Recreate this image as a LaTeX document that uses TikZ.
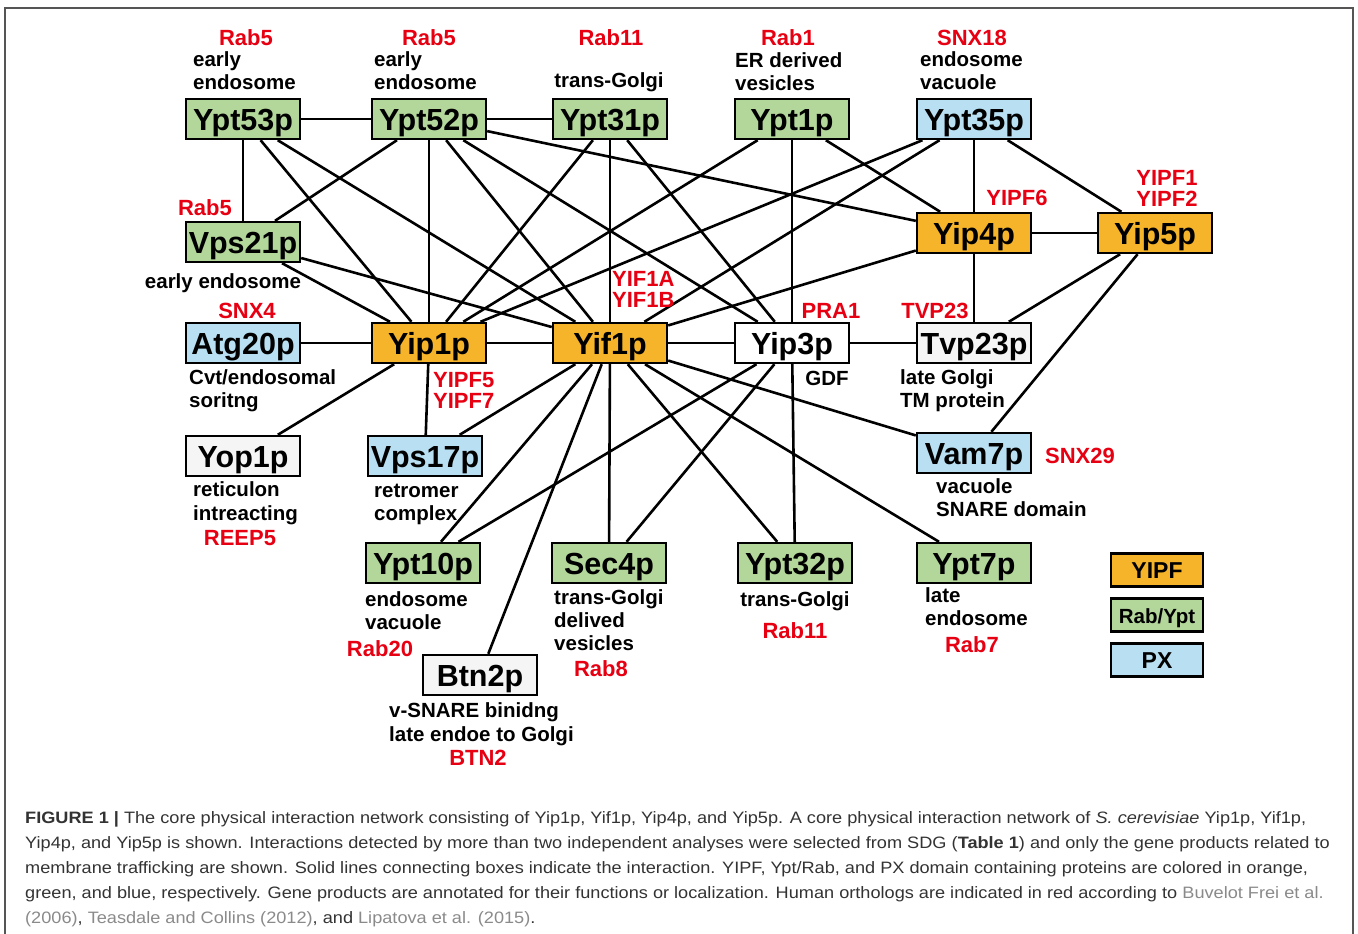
\documentclass[tikz,border=0pt]{standalone}
\usepackage{fontspec}
\setmainfont{Liberation Sans}
\newfontfamily\capfont[FakeStretch=1.1]{Liberation Sans}
\definecolor{yipf}{HTML}{F6B42B}
\definecolor{rabypt}{HTML}{B3D69A}
\definecolor{pxdom}{HTML}{B8E0F2}
\definecolor{plain}{HTML}{F5F5F5}
\definecolor{ortho}{HTML}{E60012}
\definecolor{captxt}{HTML}{333333}
\definecolor{capref}{HTML}{8A8A8A}
\definecolor{framegray}{HTML}{555555}

\begin{document}
\begin{tikzpicture}[x=1pt,y=-1pt,
  prot/.style={draw, line width=2.4pt, minimum width=114pt, minimum height=40pt, inner sep=0pt,
    text height=22pt, text depth=0pt, font=\bfseries\fontsize{30.5}{30.5}\selectfont},
  key/.style={draw, line width=2.4pt, minimum width=92pt, minimum height=33pt, inner sep=0pt,
    text height=16pt, text depth=0pt, font=\bfseries\fontsize{23}{23}\selectfont},
  note/.style={inner sep=0pt, align=left, anchor=base west, font=\bfseries\fontsize{20.5}{23}\selectfont},
  human/.style={inner sep=0pt, align=left, anchor=base west, text=ortho, font=\bfseries\fontsize{22}{21}\selectfont},
  capline/.style={inner sep=0pt, anchor=base west, text=captxt, font=\capfont\fontsize{16.5}{16.5}\selectfont},
  link/.style={line width=2.6pt}]
\useasboundingbox (0,0) rectangle (1358,934);
\draw[framegray, line width=1.5pt] (5,934) -- (5,8) -- (1353,8) -- (1353,934);

\node[prot, fill=rabypt] (Ypt53p) at (243,119) {Ypt53p};
\node[prot, fill=rabypt] (Ypt52p) at (429,119) {Ypt52p};
\node[prot, fill=rabypt] (Ypt31p) at (610,119) {Ypt31p};
\node[prot, fill=rabypt] (Ypt1p) at (792,119) {Ypt1p};
\node[prot, fill=pxdom] (Ypt35p) at (974,119) {Ypt35p};
\node[prot, fill=rabypt] (Vps21p) at (243,242) {Vps21p};
\node[prot, fill=yipf] (Yip4p) at (974,233) {Yip4p};
\node[prot, fill=yipf] (Yip5p) at (1155,233) {Yip5p};
\node[prot, fill=pxdom] (Atg20p) at (243,343) {Atg20p};
\node[prot, fill=yipf] (Yip1p) at (429,343) {Yip1p};
\node[prot, fill=yipf] (Yif1p) at (610,343) {Yif1p};
\node[prot, fill=white] (Yip3p) at (792,343) {Yip3p};
\node[prot, fill=plain] (Tvp23p) at (974,343) {Tvp23p};
\node[prot, fill=plain] (Yop1p) at (243,456) {Yop1p};
\node[prot, fill=pxdom] (Vps17p) at (425,456) {Vps17p};
\node[prot, fill=pxdom] (Vam7p) at (974,453) {Vam7p};
\node[prot, fill=rabypt] (Ypt10p) at (423,563) {Ypt10p};
\node[prot, fill=rabypt] (Sec4p) at (609,563) {Sec4p};
\node[prot, fill=rabypt] (Ypt32p) at (795,563) {Ypt32p};
\node[prot, fill=rabypt] (Ypt7p) at (974,563) {Ypt7p};
\node[prot, fill=plain] (Btn2p) at (480,675) {Btn2p};

\node[key, fill=yipf] (keyYIPF) at (1157,570) {YIPF};
\node[key, fill=rabypt, font=\bfseries\fontsize{20.5}{20.5}\selectfont] (keyRab) at (1157,615) {Rab/Ypt};
\node[key, fill=pxdom] (keyPX) at (1157,660) {PX};

\path[draw,link] (Ypt53p) -- (Ypt52p);
\path[draw,link] (Ypt52p) -- (Ypt31p);
\path[draw,link] (Ypt53p) -- (Vps21p);
\path[draw,link] (Ypt53p) -- (Yip1p);
\path[draw,link] (Ypt53p) -- (Yif1p);
\path[draw,link] (Ypt52p) -- (Vps21p);
\path[draw,link] (Ypt52p) -- (Yip1p);
\path[draw,link] (Ypt52p) -- (Yif1p);
\path[draw,link] (Ypt52p) -- (Yip3p);
\path[draw,link] (Ypt52p) -- (Yip4p);
\path[draw,link] (Ypt31p) -- (Yip1p);
\path[draw,link] (Ypt31p) -- (Yif1p);
\path[draw,link] (Ypt31p) -- (Yip3p);
\path[draw,link] (Ypt1p) -- (Yip1p);
\path[draw,link] (Ypt1p) -- (Yip3p);
\path[draw,link] (Ypt1p) -- (Yip4p);
\path[draw,link] (Ypt35p) -- (Yip1p);
\path[draw,link] (Ypt35p) -- (Yif1p);
\path[draw,link] (Ypt35p) -- (Yip4p);
\path[draw,link] (Ypt35p) -- (Yip5p);
\path[draw,link] (Vps21p) -- (Yip1p);
\path[draw,link] (Vps21p) -- (Yif1p);
\path[draw,link] (Yip4p) -- (Yip5p);
\path[draw,link] (Yip4p) -- (Yif1p);
\path[draw,link] (Yip4p) -- (Tvp23p);
\path[draw,link] (Yip5p) -- (Tvp23p);
\path[draw,link] (Yip5p) -- (Vam7p);
\path[draw,link] (Atg20p) -- (Yip1p);
\path[draw,link] (Yip1p) -- (Yif1p);
\path[draw,link] (Yif1p) -- (Yip3p);
\path[draw,link] (Yip3p) -- (Tvp23p);
\path[draw,link] (Yip1p) -- (Yop1p);
\path[draw,link] (Yip1p) -- (Vps17p);
\path[draw,link] (Yif1p) -- (Vps17p);
\path[draw,link] (Yif1p) -- (Ypt10p);
\path[draw,link] (Yif1p) -- (Btn2p);
\path[draw,link] (Yif1p) -- (Sec4p);
\path[draw,link] (Yif1p) -- (Ypt32p);
\path[draw,link] (Yif1p) -- (Ypt7p);
\path[draw,link] (Yif1p) -- (Vam7p);
\path[draw,link] (Yip3p) -- (Ypt10p);
\path[draw,link] (Yip3p) -- (Sec4p);
\path[draw,link] (Yip3p) -- (Ypt32p);

\node[human, anchor=base] (h53) at (246,46) {Rab5};
\node[human, anchor=base] (h52) at (429,46) {Rab5};
\node[human, anchor=base] (h31) at (611,46) {Rab11};
\node[human, anchor=base] (h1) at (788,46) {Rab1};
\node[human, anchor=base] (h35) at (972,46) {SNX18};
\node[human, anchor=base] (h21) at (205,215) {Rab5};
\node[human, anchor=base] (h4) at (1017,205) {YIPF6};
\node[human, anchor=base, align=center] (h5) at (1167,206) {YIPF1\\YIPF2};
\node[human, anchor=base] (h20) at (247,318) {SNX4};
\node[human] (hif1) at (612,307) {YIF1A\\YIF1B};
\node[human] (hip1) at (433,408) {YIPF5\\YIPF7};
\node[human, anchor=base] (hip3) at (831,318) {PRA1};
\node[human, anchor=base] (htvp) at (935,318) {TVP23};
\node[human, anchor=base] (hvam) at (1080,463) {SNX29};
\node[human, anchor=base] (hyop) at (240,545) {REEP5};
\node[human, anchor=base] (h10) at (380,656) {Rab20};
\node[human, anchor=base] (hsec) at (601,676) {Rab8};
\node[human, anchor=base] (h32) at (795,638) {Rab11};
\node[human, anchor=base] (h7) at (972,652) {Rab7};
\node[human, anchor=base] (hbtn) at (478,765) {BTN2};

\node[note] (n53) at (193,89) {early\\endosome};
\node[note] (n52) at (374,89) {early\\endosome};
\node[note, anchor=base] (n31) at (609,88) {trans-Golgi};
\node[note] (n1) at (735,90) {ER derived\\vesicles};
\node[note] (n35) at (920,89) {endosome\\vacuole};
\node[note, anchor=base] (n21) at (223,288) {early endosome};
\node[note] (n20) at (189,407) {Cvt/endosomal\\soritng};
\node[note, anchor=base] (nip3) at (827,385) {GDF};
\node[note] (ntvp) at (900,407) {late Golgi\\TM protein};
\node[note, font=\bfseries\fontsize{20.5}{24}\selectfont] (nyop) at (193,520) {reticulon\\intreacting};
\node[note] (n17) at (374,520) {retromer\\complex};
\node[note] (nvam) at (936,516) {vacuole\\SNARE domain};
\node[note] (n10) at (365,629) {endosome\\vacuole};
\node[note] (nsec) at (554,650) {trans-Golgi\\delived\\vesicles};
\node[note, anchor=base] (n32) at (795,606) {trans-Golgi};
\node[note] (n7) at (925,625) {late\\endosome};
\node[note, font=\bfseries\fontsize{20.5}{24}\selectfont] (nbtn) at (389,741) {v-SNARE binidng\\late endoe to Golgi};

\node[capline] (cap1) at (25,823) {\textbf{FIGURE 1 |} The core physical interaction network consisting of Yip1p, Yif1p, Yip4p, and Yip5p. A core physical interaction network of \textit{S. cerevisiae} Yip1p, Yif1p,};
\node[capline] (cap2) at (25,848) {Yip4p, and Yip5p is shown. Interactions detected by more than two independent analyses were selected from SDG (\textbf{Table 1}) and only the gene products related to};
\node[capline] (cap3) at (25,873) {membrane trafficking are shown. Solid lines connecting boxes indicate the interaction. YIPF, Ypt/Rab, and PX domain containing proteins are colored in orange,};
\node[capline] (cap4) at (25,898) {green, and blue, respectively. Gene products are annotated for their functions or localization. Human orthologs are indicated in red according to {\color{capref}Buvelot Frei et al.}};
\node[capline] (cap5) at (25,923) {{\color{capref}(2006)}, {\color{capref}Teasdale and Collins (2012)}, and {\color{capref}Lipatova et al. (2015)}.};
\end{tikzpicture}
\end{document}
